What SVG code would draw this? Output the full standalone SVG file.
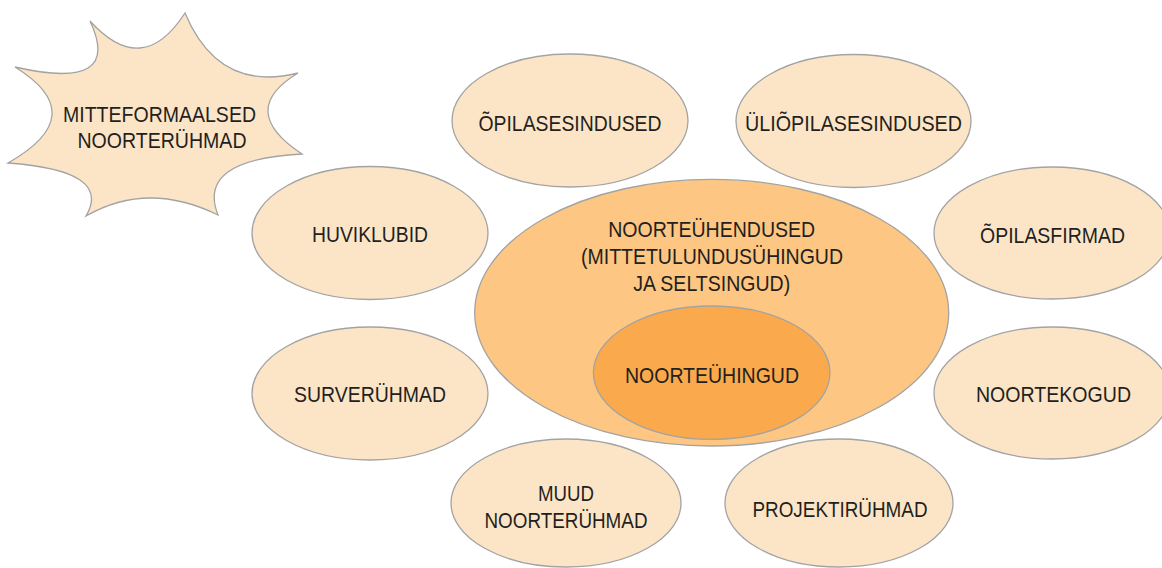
<svg xmlns="http://www.w3.org/2000/svg" width="1162" height="568" viewBox="0 0 1162 568">
<style>
.s{fill:#FCE5C7;stroke:#A3A3A3;stroke-width:1.3}
.b{fill:#FDC682;stroke:#A3A3A3;stroke-width:1.3}
.i{fill:#FAAA4C;stroke:#A3A3A3;stroke-width:1.3}
text{font-family:"Liberation Sans",Arial,sans-serif;font-size:22px;fill:#231F20;text-anchor:middle}
</style>
<rect width="1162" height="568" fill="#FFFFFF"/>
<g id="mitteformaalsed">
<path class="s" d="M15,67 Q123.5,92 90,21 Q142.5,79 185,13 Q218.5,93 298,73 Q236,110.5 302,154 Q196,159.5 218,215 Q148,180.5 86,216 Q113,170.5 8,163 Q92.5,115 15,67 Z"/>
<text x="159.5" y="121.7" textLength="193" lengthAdjust="spacingAndGlyphs">MITTEFORMAALSED</text>
<text x="162" y="148.3" textLength="169" lengthAdjust="spacingAndGlyphs">NOORTERÜHMAD</text>
</g>
<g id="opilasesindused">
<ellipse class="s" cx="570" cy="120.5" rx="118" ry="66.5"/>
<text x="570" y="130.7" textLength="183" lengthAdjust="spacingAndGlyphs">ÕPILASESINDUSED</text>
</g>
<g id="uliopilasesindused">
<ellipse class="s" cx="853.5" cy="121" rx="117.5" ry="66.5"/>
<text x="853.5" y="131" textLength="217" lengthAdjust="spacingAndGlyphs">ÜLIÕPILASESINDUSED</text>
</g>
<g id="huviklubid">
<ellipse class="s" cx="370" cy="233" rx="118" ry="66.5"/>
<text x="370" y="241.7" textLength="116" lengthAdjust="spacingAndGlyphs">HUVIKLUBID</text>
</g>
<g id="opilasfirmad">
<ellipse class="s" cx="1052" cy="233" rx="118" ry="66"/>
<text x="1052.5" y="243.3" textLength="145" lengthAdjust="spacingAndGlyphs">ÕPILASFIRMAD</text>
</g>
<g id="surveruhmad">
<ellipse class="s" cx="370" cy="393.5" rx="118" ry="66.5"/>
<text x="370" y="402" textLength="152" lengthAdjust="spacingAndGlyphs">SURVERÜHMAD</text>
</g>
<g id="noortekogud">
<ellipse class="s" cx="1052" cy="393" rx="118" ry="66"/>
<text x="1053.5" y="401.7" textLength="155" lengthAdjust="spacingAndGlyphs">NOORTEKOGUD</text>
</g>
<g id="muud">
<ellipse class="s" cx="566" cy="503" rx="115" ry="64"/>
<text x="566" y="500.7" textLength="56" lengthAdjust="spacingAndGlyphs">MUUD</text>
<text x="566" y="528.3" textLength="163" lengthAdjust="spacingAndGlyphs">NOORTERÜHMAD</text>
</g>
<g id="projektiruhmad">
<ellipse class="s" cx="839" cy="503" rx="114" ry="64"/>
<text x="840" y="517.3" textLength="175" lengthAdjust="spacingAndGlyphs">PROJEKTIRÜHMAD</text>
</g>
<g id="noorteuhendused">
<ellipse class="b" cx="711.7" cy="312.7" rx="237" ry="133.3"/>
<text x="711.7" y="236.7" textLength="207" lengthAdjust="spacingAndGlyphs">NOORTEÜHENDUSED</text>
<text x="712" y="264" textLength="262" lengthAdjust="spacingAndGlyphs">(MITTETULUNDUSÜHINGUD</text>
<text x="711.7" y="290.7" textLength="157" lengthAdjust="spacingAndGlyphs">JA SELTSINGUD)</text>
</g>
<g id="noorteuhingud">
<ellipse class="i" cx="711.7" cy="372.7" rx="118.3" ry="66.7"/>
<text x="712" y="383.3" textLength="174" lengthAdjust="spacingAndGlyphs">NOORTEÜHINGUD</text>
</g>
<g id="connectors"/>
</svg>
